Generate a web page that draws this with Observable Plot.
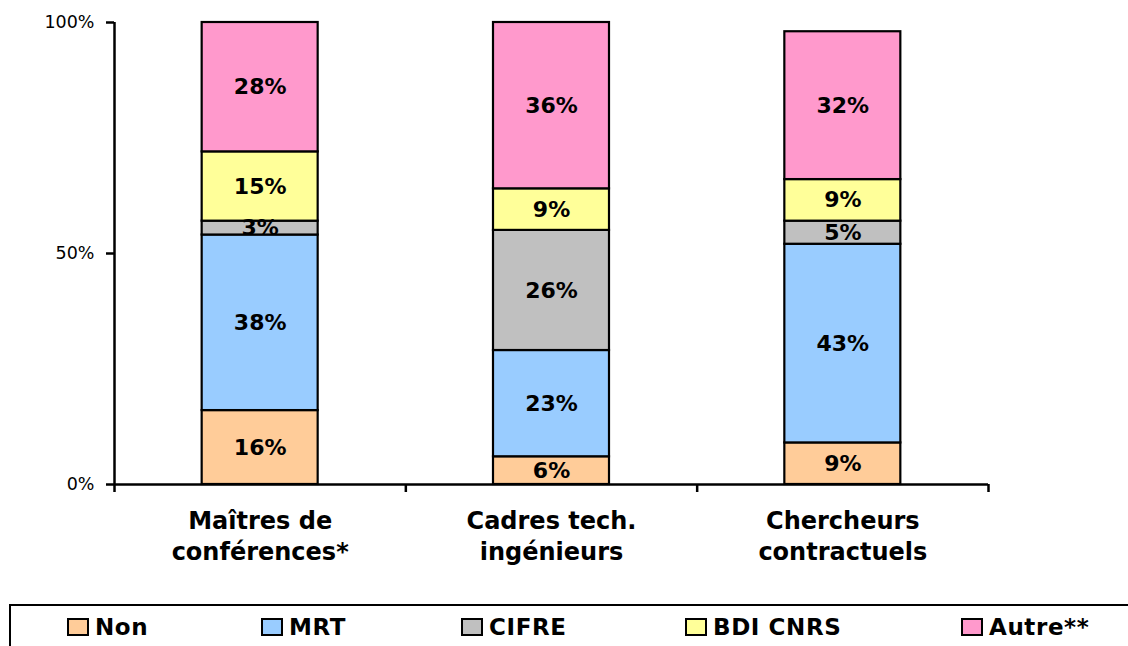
<!DOCTYPE html>
<html>
<head>
<meta charset="utf-8">
<script src="https://cdn.jsdelivr.net/npm/d3@7"></script>
<script src="https://cdn.jsdelivr.net/npm/@observablehq/plot@0.6"></script>
<style>
  body { margin: 0; background: #fff; font-family: "DejaVu Sans", sans-serif; }
  #wrap { position: relative; width: 1128px; height: 646px; overflow: hidden; }
  #legend { position: absolute; left: 9px; top: 604px; width: 1200px; height: 60px;
            border: 2.5px solid #000; box-sizing: border-box; }
  .item { position: absolute; top: 8px; display: flex; align-items: center;
          font: bold 23px "DejaVu Sans", sans-serif; color: #000; letter-spacing: 0.6px; }
  .sw { width: 18px; height: 14px; border: 2px solid #000; margin-right: 6px; }
</style>
</head>
<body>
<div id="wrap">
  <div id="chart"></div>
  <div id="legend"></div>
</div>
<script>
const categories = ["Maîtres de\nconférences*", "Cadres tech.\ningénieurs", "Chercheurs\ncontractuels"];
const seriesNames = ["Non", "MRT", "CIFRE", "BDI CNRS", "Autre**"];
const seriesColors = ["#FFCC99", "#99CCFF", "#C0C0C0", "#FFFF99", "#FF99CC"];
const nonValues = [16, 6, 9];
const mrtValues = [38, 23, 43];
const cifreValues = [3, 26, 5];
const bdiValues = [15, 9, 9];
const autreValues = [28, 36, 32];
const yTicks = [0, 50, 100];
const legendX = [56, 250, 450, 674, 950];

const seriesValues = [nonValues, mrtValues, cifreValues, bdiValues, autreValues];
const rows = [];
categories.forEach((c, i) => {
  seriesNames.forEach((s, k) => {
    rows.push({i, category: c, series: s, value: seriesValues[k][i]});
  });
});

const W = 1128, H = 600;
const mL = 114, mR = 140, mT = 22, mB = 116;
const step = (W - mL - mR) / categories.length;
const barW = 116;
const inset = (step - barW) / 2;

const chart = Plot.plot({
  width: W,
  height: H,
  marginLeft: mL,
  marginRight: mR,
  marginTop: mT,
  marginBottom: mB,
  style: {fontFamily: "DejaVu Sans", fontSize: "16px", color: "#000", background: "#fff"},
  x: {domain: [0, categories.length], axis: null},
  y: {domain: [0, 100], axis: null},
  color: {domain: seriesNames, range: seriesColors},
  marks: [
    Plot.rectY(rows, Plot.stackY({
      x: "i", interval: 1, y: "value", fill: "series", z: "series",
      order: seriesNames,
      stroke: "#000", strokeWidth: 2.2,
      insetLeft: inset, insetRight: inset
    })),
    Plot.text(rows, Plot.stackY({
      x: d => d.i + 0.5, y: "value", z: "series",
      order: seriesNames,
      text: d => d.value + "%",
      fontSize: 22, fontWeight: "bold", fill: "#000"
    })),
    Plot.ruleX([0], {y1: 0, y2: 100, strokeWidth: 2.5}),
    Plot.ruleY([0], {strokeWidth: 2.5}),
    Plot.axisY({ticks: yTicks, tickFormat: d => d + "%", tickSize: 8, tickPadding: 12,
                strokeWidth: 2.5, fontSize: 17.5, label: null}),
    Plot.axisX({ticks: d3.range(categories.length + 1), tickFormat: () => "", tickSize: 8,
                strokeWidth: 2.5, label: null}),
    Plot.text(categories, {
      x: (d, i) => i + 0.5, y: () => 0, text: d => d,
      dy: 50, fontSize: 24, fontWeight: "bold", lineHeight: 1.3, letterSpacing: 0.6, fill: "#000"
    })
  ]
});
document.getElementById("chart").appendChild(chart);

const legend = document.getElementById("legend");
seriesNames.forEach((s, k) => {
  const it = document.createElement("div");
  it.className = "item";
  it.style.left = legendX[k] + "px";
  const sw = document.createElement("div");
  sw.className = "sw";
  sw.style.background = seriesColors[k];
  const t = document.createElement("span");
  t.textContent = s;
  it.appendChild(sw);
  it.appendChild(t);
  legend.appendChild(it);
});
</script>
</body>
</html>
